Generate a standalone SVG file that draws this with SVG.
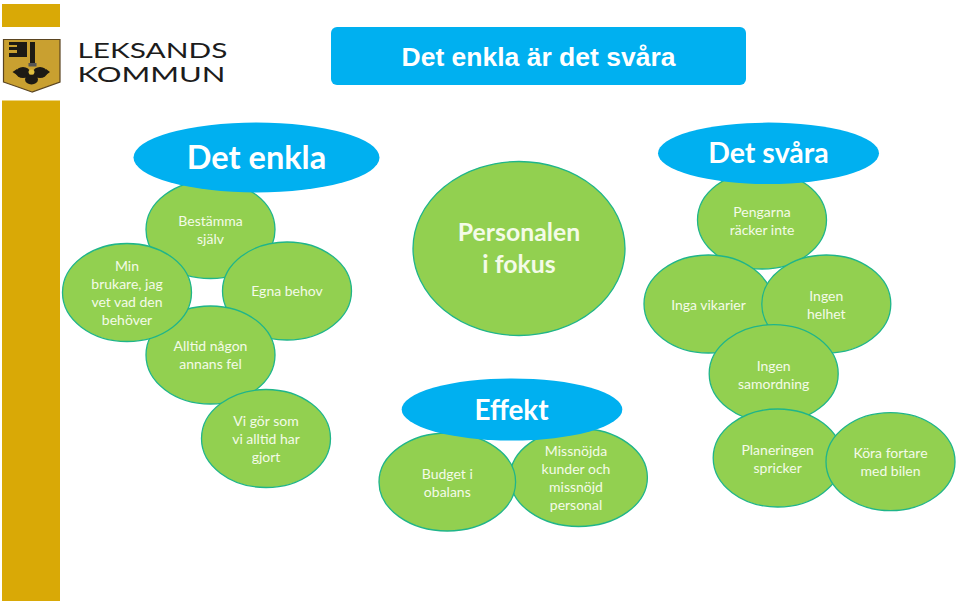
<svg xmlns="http://www.w3.org/2000/svg" width="960" height="606" viewBox="0 0 960 606">
<style>
.g{fill:#92d050;stroke:#1fb58a;stroke-width:1.3}
.b{fill:#00b0f0}
.t{font-family:Lato,Carlito,"Open Sans",sans-serif;font-size:14px;fill:#f4fbe8;text-anchor:middle}
.h{font-family:Lato,Carlito,"Open Sans",sans-serif;font-weight:700;font-size:28.5px;fill:#fff;text-anchor:middle}
.p{font-family:Lato,Carlito,"Open Sans",sans-serif;font-weight:700;font-size:24.8px;fill:#f4fbe8;text-anchor:middle}
.l{font-family:Lato,"Liberation Sans",sans-serif;font-weight:400;font-size:22px;fill:#1c1c1c}
.gold{fill:#d9a906}
.k{fill:#1d1a14}
</style>
<rect width="960" height="606" fill="#fff"/>
<g id="sidebar"><rect class="gold" x="2" y="4" width="58" height="23"/><rect class="gold" x="2" y="100.500" width="58" height="500.500"/></g>
<g id="logo">
<path d="M3.500 39.500H60V82Q46 87 32 92Q18 87 3.500 82Z" fill="#c9a030" stroke="#5a4420" stroke-width="1.200"/>
<path d="M9 42H27V57H9V53H17V50H9V47H17V45H9Z" class="k"/>
<rect class="k" x="30" y="42" width="5" height="22"/>
<rect x="28.500" y="63" width="8" height="3.500" fill="#555"/>
<ellipse class="k" cx="23" cy="72.500" rx="7" ry="5.500"/><ellipse class="k" cx="40" cy="72.500" rx="7" ry="5.500"/><ellipse class="k" cx="31.500" cy="79.500" rx="6.500" ry="5"/>
<path class="k" d="M12.500 72L17 69V75Z M50 72L46 69V75Z"/>
<ellipse cx="31.500" cy="72" rx="3" ry="2.500" fill="#e0c040"/>
<text class="l" x="77.500" y="57.500" textLength="150" lengthAdjust="spacingAndGlyphs">LEKSANDS</text>
<text class="l" x="77.500" y="81.500" textLength="148" lengthAdjust="spacingAndGlyphs">KOMMUN</text>
</g>
<g id="title"><rect class="b" x="331" y="27" width="415" height="58" rx="6"/><text x="538.500" y="66" font-family="'Liberation Sans',Arial,sans-serif" font-weight="700" font-size="26.500" fill="#fff" text-anchor="middle">Det enkla är det svåra</text></g>

<g id="bestamma"><ellipse class="g" cx="210.500" cy="229.500" rx="64.500" ry="49"/><text class="t" x="210.500" y="226">Bestämma</text><text class="t" x="210.500" y="244">själv</text></g>
<g id="egna"><ellipse class="g" cx="287" cy="291" rx="64.500" ry="49"/><text class="t" x="287" y="296">Egna behov</text></g>
<g id="alltid"><ellipse class="g" cx="210.500" cy="355" rx="64.500" ry="49"/><text class="t" x="210.500" y="351">Alltid någon</text><text class="t" x="210.500" y="369">annans fel</text></g>
<g id="min"><ellipse class="g" cx="127" cy="292.500" rx="64.500" ry="49"/><text class="t" x="127" y="271">Min</text><text class="t" x="127" y="289">brukare, jag</text><text class="t" x="127" y="307">vet vad den</text><text class="t" x="127" y="325">behöver</text></g>
<g id="vigor"><ellipse class="g" cx="266" cy="438.500" rx="64.500" ry="49"/><text class="t" x="266" y="426">Vi gör som</text><text class="t" x="266" y="444">vi alltid har</text><text class="t" x="266" y="462">gjort</text></g>
<g id="det-enkla"><ellipse class="b" cx="256.500" cy="157.500" rx="123" ry="35"/><text class="h" x="256.500" y="169" style="font-size:32.500px">Det enkla</text></g>

<g id="personalen"><ellipse class="g" cx="519" cy="248.500" rx="106" ry="87"/><text class="p" x="519" y="241">Personalen</text><text class="p" x="519" y="273">i fokus</text></g>
<g id="missnojda"><ellipse class="g" cx="578.700" cy="477.500" rx="68.700" ry="49"/><text class="t" x="576" y="456">Missnöjda</text><text class="t" x="576" y="474">kunder och</text><text class="t" x="576" y="492">missnöjd</text><text class="t" x="576" y="510">personal</text></g>
<g id="budget"><ellipse class="g" cx="447.300" cy="482" rx="68.300" ry="49"/><text class="t" x="447.300" y="479">Budget i</text><text class="t" x="447.300" y="497">obalans</text></g>
<g id="effekt"><ellipse class="b" cx="512" cy="409.500" rx="110.300" ry="31"/><text class="h" x="511.500" y="420" style="font-size:27.800px">Effekt</text></g>

<g id="pengarna"><ellipse class="g" cx="762" cy="220" rx="64.500" ry="49"/><text class="t" x="762" y="217">Pengarna</text><text class="t" x="762" y="235">räcker inte</text></g>
<g id="inga"><ellipse class="g" cx="708.500" cy="304" rx="64.500" ry="49"/><text class="t" x="708.500" y="310">Inga vikarier</text></g>
<g id="helhet"><ellipse class="g" cx="826.300" cy="304" rx="64.500" ry="49"/><text class="t" x="826.300" y="301">Ingen</text><text class="t" x="826.300" y="319">helhet</text></g>
<g id="samordning"><ellipse class="g" cx="773.700" cy="373.700" rx="64.500" ry="49"/><text class="t" x="773.700" y="371">Ingen</text><text class="t" x="773.700" y="389">samordning</text></g>
<g id="planeringen"><ellipse class="g" cx="777.700" cy="458" rx="64.500" ry="49"/><text class="t" x="777.700" y="455">Planeringen</text><text class="t" x="777.700" y="473">spricker</text></g>
<g id="kora"><ellipse class="g" cx="890.500" cy="461.700" rx="64.500" ry="49"/><text class="t" x="890.500" y="458">Köra fortare</text><text class="t" x="890.500" y="476">med bilen</text></g>
<g id="det-svara"><ellipse class="b" cx="768.500" cy="153.300" rx="110.500" ry="30.700"/><text class="h" x="768.500" y="163">Det svåra</text></g>
<g id="connectors"/>
</svg>
